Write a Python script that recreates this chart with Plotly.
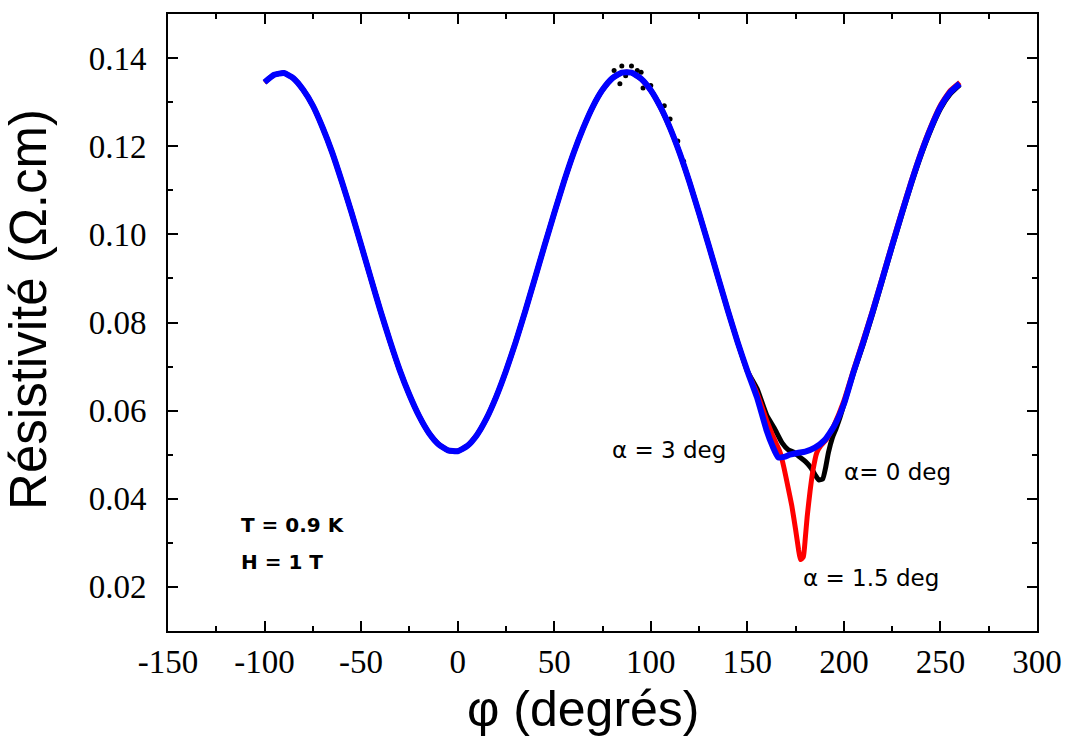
import plotly.graph_objects as go

# ---- data ----
# shared part of the three curves (they overlap exactly up to ~150 deg)
phi_common = [-100, -95, -90, -85, -80, -75, -70, -65, -60, -55, -50, -45, -40, -35, -30,
              -25, -20, -15, -10, -5, 0, 5, 10, 15, 20, 25, 30, 35, 40, 45, 50, 55, 60,
              65, 70, 75, 80, 85, 90, 95, 100, 105, 110, 115, 120, 125, 130, 135, 140, 145, 150]
rho_common = [0.1345, 0.1362, 0.1366, 0.1354, 0.1328, 0.1292, 0.1243, 0.1186, 0.1120, 0.1050,
              0.0976, 0.0901, 0.0827, 0.0757, 0.0692, 0.0636, 0.0588, 0.0550, 0.0524, 0.0510,
              0.0508, 0.0520, 0.0545, 0.0583, 0.0632, 0.0690, 0.0755, 0.0826, 0.0900, 0.0975,
              0.1048, 0.1119, 0.1184, 0.1241, 0.1290, 0.1328, 0.1354, 0.1367, 0.1367, 0.1353,
              0.1327, 0.1289, 0.1241, 0.1184, 0.1119, 0.1048, 0.0975, 0.0900, 0.0826, 0.0755, 0.0690]

# alpha = 3 deg (blue)
phi_blue_tail = [155, 160, 163, 166, 169, 172, 176, 180, 185, 190, 195, 200, 205, 210, 215,
                 220, 225, 230, 235, 240, 245, 250, 255, 260]
rho_blue_tail = [0.0630, 0.0555, 0.0520, 0.0494, 0.0495, 0.0500, 0.0504, 0.0507, 0.0516, 0.0533,
                 0.0565, 0.0615, 0.0688, 0.0755, 0.0826, 0.0900, 0.0975, 0.1048, 0.1119, 0.1184,
                 0.1241, 0.1289, 0.1322, 0.1342]

# alpha = 1.5 deg (red)
phi_red_tail = [155, 160, 163, 165, 167, 169, 171, 173, 175, 176.5, 177.5, 179, 180, 181, 182.5,
                184, 186, 188, 191, 195, 200, 205, 210, 215, 220, 225, 230, 235, 240, 245,
                250, 255, 260]
rho_red_tail = [0.0640, 0.0578, 0.0545, 0.0525, 0.0505, 0.0470, 0.0428, 0.0385, 0.0330, 0.0285,
                0.0262, 0.0268, 0.0310, 0.0360, 0.0418, 0.0465, 0.0505, 0.0520, 0.0535, 0.0568,
                0.0622, 0.0692, 0.0760, 0.0830, 0.0904, 0.0979, 0.1052, 0.1123, 0.1188, 0.1245,
                0.1293, 0.1326, 0.1345]

# alpha = 0 deg (black)
phi_black_tail = [155, 160, 164, 168, 171, 174, 177, 180, 183, 185, 187, 189, 190.5, 192, 194,
                  196, 198, 201, 205, 210, 215, 220, 225, 230, 235, 240, 245, 250, 255, 260]
rho_black_tail = [0.0650, 0.0590, 0.0560, 0.0527, 0.0512, 0.0506, 0.0495, 0.0485, 0.0470, 0.0455,
                  0.0443, 0.0445, 0.0470, 0.0505, 0.0538, 0.0560, 0.0585, 0.0628, 0.0685, 0.0750,
                  0.0821, 0.0896, 0.0971, 0.1044, 0.1115, 0.1180, 0.1237, 0.1285, 0.1318, 0.1339]

# scattered black points near the maximum
phi_black_noise = [81, 84, 85, 87, 90, 93, 95, 96, 100, 104, 107, 110, 114, 117]
rho_black_noise = [0.1372, 0.1342, 0.1382, 0.1360, 0.1382, 0.1372, 0.1368, 0.1332, 0.1338,
                   0.1300, 0.1292, 0.1262, 0.1212, 0.1166]

x_ticks = [-150, -100, -50, 0, 50, 100, 150, 200, 250, 300]
x_tick_labels = ["-150", "-100", "-50", "0", "50", "100", "150", "200", "250", "300"]
y_ticks = [0.02, 0.04, 0.06, 0.08, 0.10, 0.12, 0.14]
y_tick_labels = ["0.02", "0.04", "0.06", "0.08", "0.10", "0.12", "0.14"]

labels = [
    dict(text="α = 3 deg", x=78.8, y=0.0511),
    dict(text="α= 0 deg", x=199.2, y=0.0461),
    dict(text="α = 1.5 deg", x=177.6, y=0.0220),
]
conditions = ["T = 0.9 K", "H = 1 T"]
condition_y = [0.0341, 0.02566]

# ---- figure ----
fig = go.Figure()

fig.add_trace(go.Scatter(x=phi_common + phi_black_tail, y=rho_common + rho_black_tail,
                         mode="lines", line=dict(color="#000000", width=5, shape="spline", smoothing=0.5),
                         showlegend=False))
fig.add_trace(go.Scatter(x=phi_black_noise, y=rho_black_noise, mode="markers",
                         marker=dict(color="#000000", size=5, symbol="circle"), showlegend=False))
fig.add_trace(go.Scatter(x=phi_common + phi_red_tail, y=rho_common + rho_red_tail,
                         mode="lines", line=dict(color="#ff0000", width=5, shape="spline", smoothing=0.4),
                         showlegend=False))
fig.add_trace(go.Scatter(x=phi_common + phi_blue_tail, y=rho_common + rho_blue_tail,
                         mode="lines", line=dict(color="#0000ff", width=6, shape="spline", smoothing=0.5),
                         showlegend=False))

for lab in labels:
    fig.add_annotation(text=lab["text"], x=lab["x"], y=lab["y"], xref="x", yref="y",
                       xanchor="left", yanchor="middle", showarrow=False,
                       font=dict(family="DejaVu Sans", size=23, color="#000000"))

for txt, yv in zip(conditions, condition_y):
    fig.add_annotation(text=txt, x=-113.1, y=yv, xref="x", yref="y",
                       xanchor="left", yanchor="middle", showarrow=False,
                       font=dict(family="DejaVu Sans", size=20, color="#000000", weight="bold"))

# axis titles as annotations for exact placement
fig.add_annotation(text="Résistivité (Ω.cm)", xref="paper", yref="paper",
                   x=-0.160, y=0.522, textangle=-90, showarrow=False,
                   xanchor="center", yanchor="middle",
                   font=dict(family="Liberation Sans", size=51, color="#000000"))
fig.add_annotation(text="φ (degrés)", xref="paper", yref="paper",
                   x=0.478, y=-0.126, showarrow=False, xanchor="center", yanchor="middle",
                   font=dict(family="Liberation Sans", size=50, color="#000000"))

axis_common = dict(showline=True, linewidth=2, linecolor="#000000", mirror="ticks",
                   ticks="inside", ticklen=10, tickwidth=2, tickcolor="#000000",
                   showgrid=False, zeroline=False,
                   tickfont=dict(family="Liberation Serif", size=33, color="#000000"))

fig.update_xaxes(range=[-150, 300], tickvals=x_ticks, ticktext=x_tick_labels, ticklabelstandoff=0,
                 minor=dict(ticks="inside", dtick=25, tick0=-150, ticklen=5, tickwidth=2,
                            tickcolor="#000000", showgrid=False),
                 **axis_common)
fig.update_yaxes(range=[0.01, 0.15], tickvals=y_ticks, ticktext=y_tick_labels, ticklabelstandoff=13,
                 minor=dict(ticks="inside", dtick=0.01, tick0=0.01, ticklen=5, tickwidth=2,
                            tickcolor="#000000", showgrid=False),
                 **axis_common)

fig.update_layout(width=1074, height=738, plot_bgcolor="#ffffff", paper_bgcolor="#ffffff",
                  margin=dict(l=168, r=27, t=13, b=107), showlegend=False)

fig.write_html("out.html", config={"displayModeBar": False},
               post_script="document.body.style.margin='0';document.body.style.overflow='hidden';")
